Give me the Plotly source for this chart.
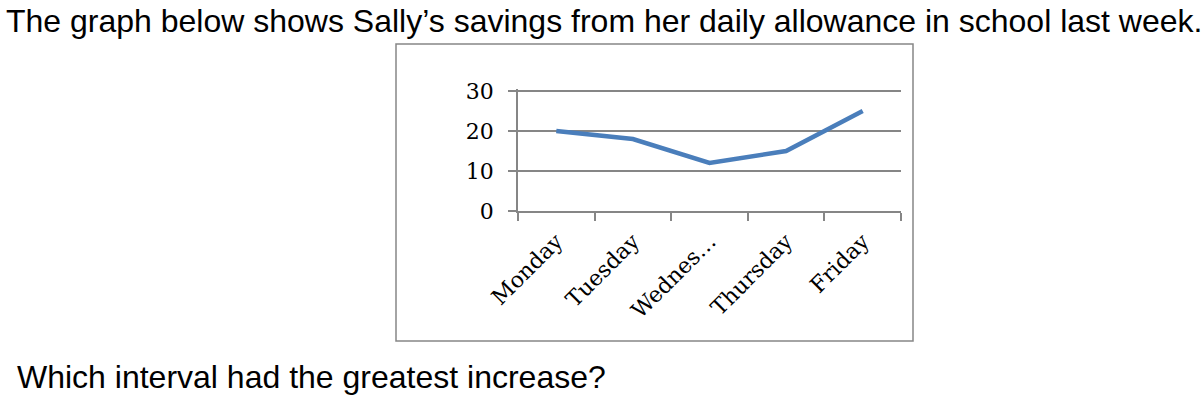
import plotly.graph_objects as go

# Sally's savings per day
days = ["Monday", "Tuesday", "Wednesday", "Thursday", "Friday"]
day_labels = ["Monday", "Tuesday", "Wednes…", "Thursday", "Friday"]
savings = [20, 18, 12, 15, 25]
y_ticks = [0, 10, 20, 30]

W, H = 1203, 401
GRAY = "#868686"


def px_x(x):
    return x / W


def px_y(y):
    return 1 - y / H


fig = go.Figure()

fig.add_trace(go.Scatter(
    x=days,
    y=savings,
    mode="lines",
    line=dict(color="#4a7ebb", width=4.5),
    showlegend=False,
))

fig.update_layout(
    width=W,
    height=H,
    margin=dict(l=0, r=0, t=0, b=0, autoexpand=False),
    paper_bgcolor="white",
    plot_bgcolor="white",
    xaxis=dict(
        domain=[px_x(518), px_x(901)],
        automargin=False,
        type="category",
        range=[-0.5, 4.5],
        tickmode="array",
        tickvals=days,
        ticktext=day_labels,
        tickson="boundaries",
        ticks="outside",
        ticklen=8,
        tickcolor=GRAY,
        tickwidth=1.5,
        showline=True,
        linecolor=GRAY,
        linewidth=1.5,
        showgrid=False,
        tickangle=-45,
        ticklabelstandoff=7,
        tickfont=dict(family="DejaVu Serif", size=22, color="black"),
        fixedrange=True,
    ),
    yaxis=dict(
        # a bit of headroom so the 30 gridline is still drawn
        domain=[px_y(211), px_y(89)],
        automargin=False,
        range=[0, 30.5],
        tickvals=y_ticks,
        ticks="outside",
        ticklen=8,
        tickcolor=GRAY,
        tickwidth=1.5,
        showline=True,
        linecolor=GRAY,
        linewidth=1.5,
        showgrid=True,
        gridcolor=GRAY,
        gridwidth=1.5,
        zeroline=False,
        ticklabelstandoff=10,
        tickfont=dict(family="DejaVu Serif", size=22, color="black"),
        fixedrange=True,
    ),
    shapes=[dict(
        type="rect", xref="paper", yref="paper",
        x0=px_x(396), x1=px_x(913), y0=px_y(341), y1=px_y(44),
        line=dict(color=GRAY, width=1.5),
    )],
    annotations=[
        dict(
            text="The graph below shows Sally’s savings from her daily allowance in school last week.",
            xref="paper", yref="paper", x=px_x(4), y=px_y(21),
            xanchor="left", yanchor="middle", showarrow=False,
            font=dict(family="Liberation Sans", size=32, color="black"),
        ),
        dict(
            text="Which interval had the greatest increase?",
            xref="paper", yref="paper", x=px_x(15), y=px_y(377),
            xanchor="left", yanchor="middle", showarrow=False,
            font=dict(family="Liberation Sans", size=32, color="black"),
        ),
    ],
)

# page body has an 8px default margin, drop it so the figure sits at 0,0
fig.write_html("out.html", config={"displayModeBar": False},
               post_script="document.body.style.margin = '0';")
